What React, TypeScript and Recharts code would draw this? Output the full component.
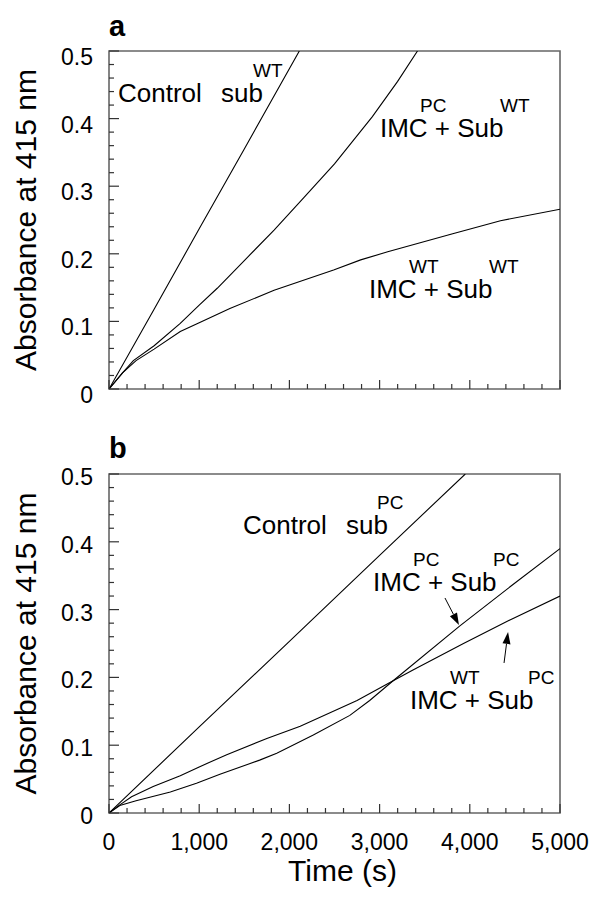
import React from "react"
import { LineChart, Line, XAxis, YAxis, ReferenceArea, ReferenceDot } from "recharts"

const FONT = "'Liberation Sans', Arial, Helvetica, sans-serif"

// ticks: minor every 200 s / 0.02, labelled every 1,000 s / 0.1
const xTicks = [0, 200, 400, 600, 800, 1000, 1200, 1400, 1600, 1800, 2000, 2200, 2400, 2600, 2800, 3000, 3200, 3400, 3600, 3800, 4000, 4200, 4400, 4600, 4800, 5000]
const yTicks = [0, 0.02, 0.04, 0.06, 0.08, 0.1, 0.12, 0.14, 0.16, 0.18, 0.2, 0.22, 0.24, 0.26, 0.28, 0.3, 0.32, 0.34, 0.36, 0.38, 0.4, 0.42, 0.44, 0.46, 0.48, 0.5]

// panel a: substrate WT
const controlSubWT = [[0, 0], [500, 0.118], [1000, 0.237], [1500, 0.355], [2110, 0.5]]
const imcPcSubWT = [[0, 0], [150, 0.024], [270, 0.042], [500, 0.064], [790, 0.097], [1000, 0.124], [1200, 0.149], [1500, 0.19], [1830, 0.235], [2160, 0.283], [2500, 0.333], [2920, 0.403], [3200, 0.455], [3420, 0.5]]
const imcWtSubWT = [[0, 0], [150, 0.024], [300, 0.042], [500, 0.059], [790, 0.085], [1000, 0.098], [1340, 0.119], [1830, 0.146], [2490, 0.176], [2790, 0.191], [3090, 0.203], [3790, 0.229], [4340, 0.249], [5000, 0.266]]

// panel b: substrate PC
const controlSubPC = [[0, 0], [1000, 0.127], [2000, 0.253], [3000, 0.38], [3950, 0.5]]
const imcPcSubPC = [[0, 0], [120, 0.011], [300, 0.018], [680, 0.031], [970, 0.044], [1230, 0.057], [1670, 0.078], [1860, 0.088], [2265, 0.115], [2670, 0.144], [2890, 0.166], [3150, 0.195], [3890, 0.276], [4450, 0.334], [5000, 0.39]]
const imcWtSubPC = [[0, 0], [120, 0.012], [250, 0.024], [490, 0.039], [790, 0.055], [1000, 0.068], [1305, 0.086], [1750, 0.11], [2120, 0.128], [2750, 0.166], [3150, 0.195], [3370, 0.211], [3930, 0.25], [4480, 0.287], [5000, 0.32]]

const toPoints = (pairs: number[][]) => pairs.map(([t, v]) => ({ t, v }))

const fmtX = (v: number) => v.toLocaleString("en-US")
const fmtY = (v: number) => (v === 0 ? "0" : v.toFixed(1))

function XTick(props: any) {
  const { x, y, payload, showLabel } = props
  const major = payload.value % 1000 === 0
  return (
    <g>
      <line x1={x} x2={x} y1={y} y2={y - (major ? 9 : 5)} stroke="#333" strokeWidth={1.2} />
      {showLabel && major && (
        <text x={x} y={y + 37} textAnchor="middle" fontSize={23} fontFamily={FONT} fill="#000">
          {fmtX(payload.value)}
        </text>
      )}
    </g>
  )
}

function YTick(props: any) {
  const { x, y, payload, labelDy } = props
  const major = Math.round(payload.value * 100) % 10 === 0
  return (
    <g>
      <line x1={x} x2={x + (major ? 10 : 5)} y1={y} y2={y} stroke="#333" strokeWidth={1.2} />
      {major && (
        <text x={x - 16} y={y + labelDy} textAnchor="end" fontSize={23} fontFamily={FONT} fill="#000">
          {fmtY(payload.value)}
        </text>
      )}
    </g>
  )
}

function YTitle(props: any) {
  const vb = props.viewBox
  const cx = vb.x + 36
  const cy = vb.y + vb.height / 2
  return (
    <text x={cx} y={cy} transform={`rotate(-90, ${cx}, ${cy})`} textAnchor="middle" fontSize={30} fontFamily={FONT} fill="#000">
      Absorbance at 415 nm
    </text>
  )
}

function XTitle(props: any) {
  const vb = props.viewBox
  return (
    <text x={vb.x + vb.width / 2 + 8} y={vb.y + 68} textAnchor="middle" fontSize={30} fontFamily={FONT} fill="#000">
      Time (s)
    </text>
  )
}

type Part = { text: string; dx: number; sup?: boolean }

function Note(props: any) {
  const { cx, cy, parts } = props
  return (
    <g fontFamily={FONT} fill="#000">
      {parts.map((p: Part, i: number) => (
        <text key={i} x={cx + p.dx} y={p.sup ? cy - 25 : cy} fontSize={p.sup ? 19 : 26}>
          {p.text}
        </text>
      ))}
    </g>
  )
}

function Arrow(props: any) {
  const { cx, cy, dx, dy } = props
  const tx = cx + dx
  const ty = cy + dy
  const len = Math.hypot(dx, dy)
  const ux = -dx / len
  const uy = -dy / len
  const hl = 12
  const hw = 4
  const bx = cx - ux * hl
  const by = cy - uy * hl
  return (
    <g>
      <line x1={tx} y1={ty} x2={bx} y2={by} stroke="#000" strokeWidth={1} />
      <polygon points={`${cx},${cy} ${bx - uy * hw},${by + ux * hw} ${bx + uy * hw},${by - ux * hw}`} fill="#000" />
    </g>
  )
}

const imcParts = (a: string, b: string): Part[] => [
  { text: "IMC + Sub", dx: 0 },
  { text: a, dx: 40, sup: true },
  { text: b, dx: 120, sup: true },
]

function Panel({
  height,
  top,
  series,
  showXLabels,
  labelDy,
  children,
}: {
  height: number
  top: number
  series: number[][][]
  showXLabels: boolean
  labelDy: number
  children?: React.ReactNode
}) {
  return (
    <LineChart width={600} height={height} margin={{ top, right: 40, bottom: 0, left: 0 }}>
      <XAxis
        type="number"
        dataKey="t"
        domain={[0, 5000]}
        ticks={xTicks}
        interval={0}
        allowDataOverflow
        axisLine={false}
        tickLine={false}
        tickSize={0}
        tickMargin={0}
        height={showXLabels ? 85 : 31}
        tick={(p: any) => <XTick {...p} showLabel={showXLabels} />}
        label={showXLabels ? (p: any) => <XTitle {...p} /> : undefined}
      />
      <YAxis
        type="number"
        domain={[0, 0.5]}
        ticks={yTicks}
        interval={0}
        allowDataOverflow
        axisLine={false}
        tickLine={false}
        tickSize={0}
        tickMargin={0}
        width={109}
        tick={(p: any) => <YTick {...p} labelDy={labelDy} />}
        label={(p: any) => <YTitle {...p} />}
      />
      {series.map((s, i) => (
        <Line
          key={i}
          data={toPoints(s)}
          dataKey="v"
          type="linear"
          stroke="#000"
          strokeWidth={1.1}
          dot={false}
          isAnimationActive={false}
        />
      ))}
      <ReferenceArea x1={0} x2={5000} y1={0} y2={0.5} fill="none" fillOpacity={0} stroke="#666" strokeWidth={1.6} />
      {children}
    </LineChart>
  )
}

export default function App() {
  return (
    <div style={{ position: "absolute", left: 0, top: 0, width: 600, height: 898, background: "#fff" }}>
      <div style={{ position: "absolute", left: 0, top: 0 }}>
        <Panel height={420} top={51} series={[controlSubWT, imcPcSubWT, imcWtSubWT]} showXLabels={false} labelDy={14}>
          <ReferenceDot
            x={100}
            y={0.4246}
            r={1}
            fill="none"
            stroke="none"
            shape={(p: any) => (
              <Note
                {...p}
                parts={[
                  { text: "Control", dx: 0 },
                  { text: "sub", dx: 103 },
                  { text: "WT", dx: 135, sup: true },
                ]}
              />
            )}
          />
          <ReferenceDot x={3004} y={0.3728} r={1} fill="none" stroke="none" shape={(p: any) => <Note {...p} parts={imcParts("PC", "WT")} />} />
          <ReferenceDot x={2882} y={0.1346} r={1} fill="none" stroke="none" shape={(p: any) => <Note {...p} parts={imcParts("WT", "WT")} />} />
        </Panel>
      </div>
      <div style={{ position: "absolute", left: 0, top: 420 }}>
        <Panel height={478} top={54} series={[controlSubPC, imcPcSubPC, imcWtSubPC]} showXLabels labelDy={11}>
          <ReferenceDot
            x={1486}
            y={0.4115}
            r={1}
            fill="none"
            stroke="none"
            shape={(p: any) => (
              <Note
                {...p}
                parts={[
                  { text: "Control", dx: 0 },
                  { text: "sub", dx: 103 },
                  { text: "PC", dx: 134, sup: true },
                ]}
              />
            )}
          />
          <ReferenceDot x={2927} y={0.3274} r={1} fill="none" stroke="none" shape={(p: any) => <Note {...p} parts={imcParts("PC", "PC")} />} />
          <ReferenceDot x={3337} y={0.1534} r={1} fill="none" stroke="none" shape={(p: any) => <Note {...p} parts={[{ text: "IMC + Sub", dx: 0 }, { text: "WT", dx: 40, sup: true }, { text: "PC", dx: 118, sup: true }]} />} />
          <ReferenceDot x={3880} y={0.2773} r={1} fill="none" stroke="none" shape={(p: any) => <Arrow {...p} dx={-14} dy={-27} />} />
          <ReferenceDot x={4424} y={0.267} r={1} fill="none" stroke="none" shape={(p: any) => <Arrow {...p} dx={-4} dy={31} />} />
        </Panel>
      </div>
      <svg width={600} height={898} style={{ position: "absolute", left: 0, top: 0, pointerEvents: "none" }}>
        <text x={109} y={36} fontSize={29} fontWeight={900} fontFamily={FONT} fill="#000">
          a
        </text>
        <text x={109} y={458} fontSize={29} fontWeight={900} fontFamily={FONT} fill="#000">
          b
        </text>
      </svg>
    </div>
  )
}
